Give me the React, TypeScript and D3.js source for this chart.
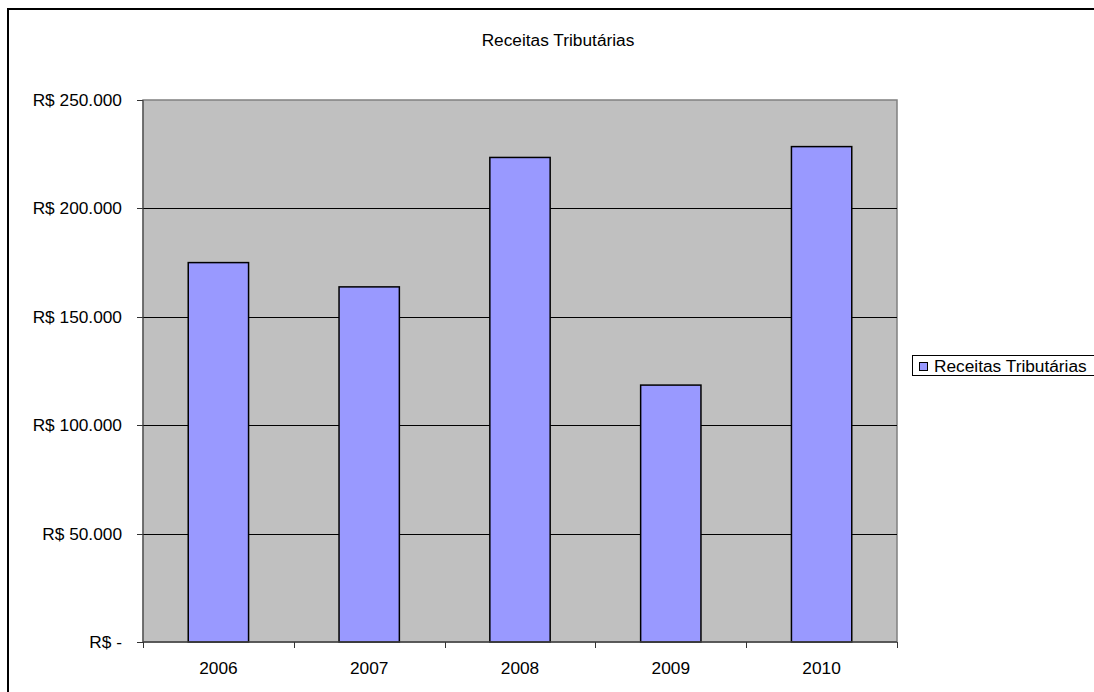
import React from "react";
import * as d3 from "d3";

const categories = ["2006", "2007", "2008", "2009", "2010"];
const values = [175000, 163800, 223500, 118500, 228500];
const yTicks = [0, 50000, 100000, 150000, 200000, 250000];
const title = "Receitas Tributárias";
const seriesName = "Receitas Tributárias";

const fmt = (v: number) =>
  v === 0 ? "R$ -" : "R$ " + d3.format(",")(v).replace(/,/g, ".");

export default function App() {
  const W = 1094, H = 692;
  const left = 143, right = 897, top = 100, bottom = 642;
  const x = d3.scaleBand().domain(categories).range([left, right]).paddingInner(0.6).paddingOuter(0.3);
  const xb = d3.scaleBand().domain(categories).range([left, right]);
  const y = d3.scaleLinear().domain([0, 250000]).range([bottom, top]);
  const font = "Liberation Sans, Arial, sans-serif";
  const fs = 17.3;
  return (
    <svg width={W} height={H} style={{ position: "absolute", left: 0, top: 0 }} fontFamily={font}>
      <rect x={0} y={0} width={W} height={H} fill="#fff" />
      <rect x={8} y={9} width={1100} height={700} fill="#fff" stroke="#000" strokeWidth={2} />
      <text x={558} y={46} textAnchor="middle" fontSize={fs}>{title}</text>
      <rect x={left} y={top} width={right - left} height={bottom - top} fill="#c0c0c0" stroke="#808080" strokeWidth={1.5} />
      {yTicks.map((t) => (
        <g key={t}>
          {t > 0 && t < 250000 && (
            <line x1={left} x2={right} y1={Math.round(y(t)) + 0.5} y2={Math.round(y(t)) + 0.5} stroke="#000" strokeWidth={1} />
          )}
          <line x1={left - 6} x2={left} y1={Math.round(y(t)) + 0.5} y2={Math.round(y(t)) + 0.5} stroke="#333" strokeWidth={1} />
          <text x={122} y={y(t) + 6} textAnchor="end" fontSize={fs}>{fmt(t)}</text>
        </g>
      ))}
      {categories.map((c, i) => (
        <rect key={c} x={x(c)!} y={y(values[i])} width={x.bandwidth()} height={bottom - y(values[i])}
          fill="#9999ff" stroke="#000" strokeWidth={1.5} />
      ))}
      <line x1={left} x2={left} y1={top} y2={bottom} stroke="#444" strokeWidth={1} />
      <line x1={left} x2={right} y1={bottom} y2={bottom} stroke="#444" strokeWidth={1.5} />
      {[...categories.map((c) => xb(c)!), right].map((bx, i) => (
        <line key={i} x1={Math.round(bx) + 0.5} x2={Math.round(bx) + 0.5} y1={bottom} y2={bottom + 6} stroke="#333" strokeWidth={1} />
      ))}
      {categories.map((c) => (
        <text key={c} x={xb(c)! + xb.bandwidth() / 2} y={674} textAnchor="middle" fontSize={fs}>{c}</text>
      ))}
      <rect x={912.5} y={355.5} width={200} height={20} fill="#fff" stroke="#000" strokeWidth={1} />
      <rect x={919.5} y={362.5} width={8} height={8} fill="#9999ff" stroke="#000" strokeWidth={1} />
      <text x={934} y={371.5} fontSize={fs}>{seriesName}</text>
    </svg>
  );
}
